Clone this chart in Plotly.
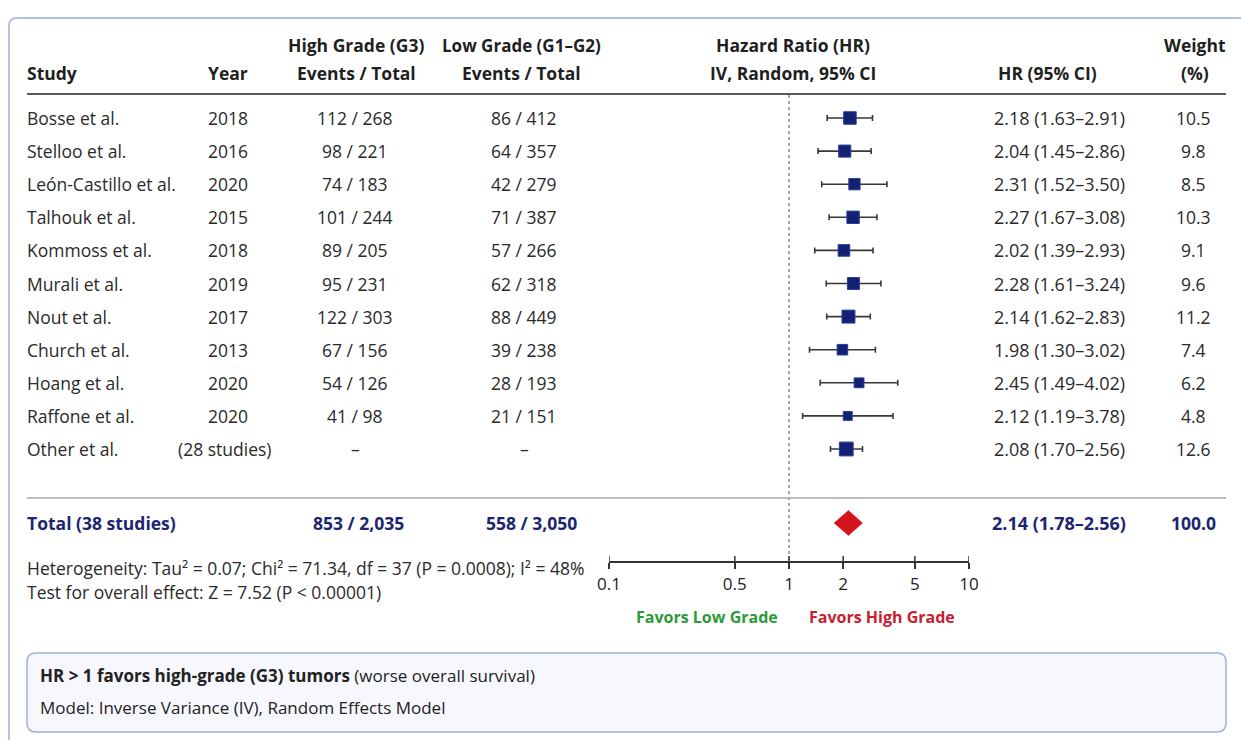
import plotly.graph_objects as go

# ---- study-level data ----
studies = ["Bosse et al.", "Stelloo et al.", "León-Castillo et al.", "Talhouk et al.",
           "Kommoss et al.", "Murali et al.", "Nout et al.", "Church et al.",
           "Hoang et al.", "Raffone et al.", "Other et al."]
years = ["2018", "2016", "2020", "2015", "2018", "2019", "2017", "2013", "2020", "2020", "(28 studies)"]
high_events = [112, 98, 74, 101, 89, 95, 122, 67, 54, 41, None]
high_total = [268, 221, 183, 244, 205, 231, 303, 156, 126, 98, None]
low_events = [86, 64, 42, 71, 57, 62, 88, 39, 28, 21, None]
low_total = [412, 357, 279, 387, 266, 318, 449, 238, 193, 151, None]
hr = [2.18, 2.04, 2.31, 2.27, 2.02, 2.28, 2.14, 1.98, 2.45, 2.12, 2.08]
hr_low = [1.63, 1.45, 1.52, 1.67, 1.39, 1.61, 1.62, 1.30, 1.49, 1.19, 1.70]
hr_high = [2.91, 2.86, 3.50, 3.08, 2.93, 3.24, 2.83, 3.02, 4.02, 3.78, 2.56]
weights = [10.5, 9.8, 8.5, 10.3, 9.1, 9.6, 11.2, 7.4, 6.2, 4.8, 12.6]

# ---- pooled estimate ----
total_label = "Total (38 studies)"
total_high = (853, 2035)
total_low = (558, 3050)
total_hr = 2.14
total_low_ci = 1.78
total_high_ci = 2.56
total_weight = 100.0

# ---- axis ticks ----
tick_vals = [0.1, 0.5, 1, 2, 5, 10]
tick_text = ["0.1", "0.5", "1", "2", "5", "10"]
null_effect = 1

# ---- page geometry helpers (pixels -> paper / row units) ----
W, H = 1241, 740
ROW0, ROW_STEP = 118, 33.1
AXIS_Y = 562


def px(x):
    return x / W


def py(y):
    return 1 - y / H


def row(ypix):
    return (ypix - ROW0) / ROW_STEP


TOTAL_Y = row(523)

FONT = "Open Sans, Noto Sans, sans-serif"
TXT = "#2a2a2a"
NAVY = "#1c2670"
BASE = 17.5

fig = go.Figure()

# line of no effect
fig.add_trace(go.Scatter(
    x=[null_effect, null_effect], y=[row(95), row(AXIS_Y)], mode="lines",
    line=dict(color="#6e6e6e", width=1.2, dash="3px,3px"),
    hoverinfo="skip", showlegend=False))

# upper halves of the axis tick marks (axis ticks themselves point down)
tx, ty = [], []
for t in tick_vals:
    tx += [t, t, None]
    ty += [row(AXIS_Y - 6), row(AXIS_Y), None]
fig.add_trace(go.Scatter(x=tx, y=ty, mode="lines", line=dict(color="#333", width=1.5),
                         hoverinfo="skip", showlegend=False))

# confidence intervals + weighted squares
fig.add_trace(go.Scatter(
    x=hr, y=list(range(len(hr))), mode="markers",
    marker=dict(symbol="square", size=[6 + 0.62 * w for w in weights], opacity=1,
                color="#142172", line=dict(color="#2a3f9c", width=1)),
    error_x=dict(type="data", symmetric=False,
                 array=[h - m for h, m in zip(hr_high, hr)],
                 arrayminus=[m - l for m, l in zip(hr, hr_low)],
                 color="#383838", thickness=1.6, width=3),
    hoverinfo="skip", showlegend=False))

# pooled diamond
dh = 0.38
fig.add_trace(go.Scatter(
    x=[total_low_ci, total_hr, total_high_ci, total_hr, total_low_ci],
    y=[TOTAL_Y, TOTAL_Y - dh, TOTAL_Y, TOTAL_Y + dh, TOTAL_Y],
    mode="lines", fill="toself", fillcolor="#d3141c",
    line=dict(color="#d3141c", width=0.5), hoverinfo="skip", showlegend=False))

ann = []


def text(x, y, s, anchor="center", size=BASE, color=TXT, bold=False, yref="paper"):
    if bold:
        s = "<b>" + s + "</b>"
    ann.append(dict(x=x, y=y, xref="paper", yref=yref, text=s, showarrow=False,
                    xanchor=anchor, yanchor="middle",
                    font=dict(family=FONT, size=size, color=color)))


# column headers
HC = "#1f1f1f"
HS = 17.5
text(px(25), py(73), "Study", "left", HS, HC, True)
text(px(228), py(73), "Year", "center", HS, HC, True)
text(px(356), py(45), "High Grade (G3)", "center", HS, HC, True)
text(px(356), py(73), "Events / Total", "center", HS, HC, True)
text(px(521), py(45), "Low Grade (G1–G2)", "center", 17, HC, True)
text(px(521), py(73), "Events / Total", "center", HS, HC, True)
text(px(793), py(45), "Hazard Ratio (HR)", "center", HS, HC, True)
text(px(793), py(73), "IV, Random, 95% CI", "center", HS, HC, True)
text(px(1047), py(73), "HR (95% CI)", "center", HS, HC, True)
text(px(1195), py(45), "Weight", "center", HS, HC, True)
text(px(1195), py(73), "(%)", "center", HS, HC, True)

# study rows
for i, name in enumerate(studies):
    text(px(25), i, name, "left", yref="y")
    yr_x = 224 if not years[i].isdigit() else 228
    text(px(yr_x), i, years[i], "center", yref="y")
    he = "–" if high_events[i] is None else f"{high_events[i]} / {high_total[i]}"
    le = "–" if low_events[i] is None else f"{low_events[i]} / {low_total[i]}"
    text(px(355), i, he, "center", yref="y")
    text(px(524), i, le, "center", yref="y")
    text(px(1059), i, f"{hr[i]:.2f} ({hr_low[i]:.2f}–{hr_high[i]:.2f})", "center", 18, yref="y")
    text(px(1193), i, f"{weights[i]:.1f}", "center", yref="y")

# total row
text(px(25), TOTAL_Y, total_label, "left", BASE, NAVY, True, "y")
text(px(358), TOTAL_Y, f"{total_high[0]:,} / {total_high[1]:,}", "center", BASE, NAVY, True, "y")
text(px(531), TOTAL_Y, f"{total_low[0]:,} / {total_low[1]:,}", "center", BASE, NAVY, True, "y")
text(px(1059), TOTAL_Y, f"{total_hr:.2f} ({total_low_ci:.2f}–{total_high_ci:.2f})", "center", 18, NAVY, True, "y")
text(px(1193), TOTAL_Y, f"{total_weight:.1f}", "center", BASE, NAVY, True, "y")

# statistics
text(px(25), py(568), "Heterogeneity: Tau² = 0.07; Chi² = 71.34, df = 37 (P = 0.0008); I² = 48%", "left", 17.5)
text(px(25), py(592), "Test for overall effect: Z = 7.52 (P &lt; 0.00001)", "left", 17.5)

# direction labels
text(px(707), py(617), "Favors Low Grade", "center", 16, "#2c9a3a", True)
text(px(882), py(617), "Favors High Grade", "center", 16, "#c8202f", True)

# note box text
text(px(38), py(675), "<b>HR &gt; 1 favors high-grade (G3) tumors</b> (worse overall survival)", "left", 17, "#222")
text(px(38), py(707), "Model: Inverse Variance (IV), Random Effects Model", "left", 17, "#222")

shapes = []


def hline(y, x0, x1, color, width):
    shapes.append(dict(type="line", xref="paper", yref="paper", x0=px(x0), x1=px(x1),
                       y0=py(y), y1=py(y), line=dict(color=color, width=width)))


# outer frame (top and left edges)
r = 8
frame = (f"M {px(9)},{py(760)} L {px(9)},{py(18 + r)} "
         f"Q {px(9)},{py(18)} {px(9 + r)},{py(18)} L {px(1260)},{py(18)}")
shapes.append(dict(type="path", xref="paper", yref="paper", path=frame,
                   line=dict(color="#b3c1dc", width=2)))

# table rules
hline(94, 27, 1226, "#5a5a5a", 2)
hline(498, 27, 1226, "#a8a8a8", 1.5)

# note box (rounded)
bx0, by0, bx1, by1, br = 27, 653, 1226, 732, 9
box = (f"M {px(bx0 + br)},{py(by0)} L {px(bx1 - br)},{py(by0)} "
       f"Q {px(bx1)},{py(by0)} {px(bx1)},{py(by0 + br)} L {px(bx1)},{py(by1 - br)} "
       f"Q {px(bx1)},{py(by1)} {px(bx1 - br)},{py(by1)} L {px(bx0 + br)},{py(by1)} "
       f"Q {px(bx0)},{py(by1)} {px(bx0)},{py(by1 - br)} L {px(bx0)},{py(by0 + br)} "
       f"Q {px(bx0)},{py(by0)} {px(bx0 + br)},{py(by0)} Z")
shapes.append(dict(type="path", xref="paper", yref="paper", path=box,
                   fillcolor="#f6f8fd", line=dict(color="#9fb0d3", width=1.5), layer="below"))

fig.update_layout(
    width=W, height=H, margin=dict(l=0, r=0, t=0, b=0, pad=0, autoexpand=False),
    paper_bgcolor="white", plot_bgcolor="rgba(0,0,0,0)",
    showlegend=False,
    xaxis=dict(type="log", range=[-1, 1], domain=[px(609), px(969)],
               anchor="free", position=py(AXIS_Y), automargin=False,
               showline=True, linecolor="#333", linewidth=1.5,
               ticks="outside", ticklen=6, tickwidth=1.5, tickcolor="#333",
               tickvals=tick_vals, ticktext=tick_text, ticklabelstandoff=1,
               tickfont=dict(family=FONT, size=17, color="#222"),
               showgrid=False, zeroline=False, fixedrange=True),
    yaxis=dict(range=[row(H), row(0)], domain=[0, 1], automargin=False,
               visible=False, fixedrange=True),
    annotations=ann, shapes=shapes,
)

fig.write_html("out.html", config={"responsive": False, "displayModeBar": False},
               post_script="document.body.style.margin='0px';")
